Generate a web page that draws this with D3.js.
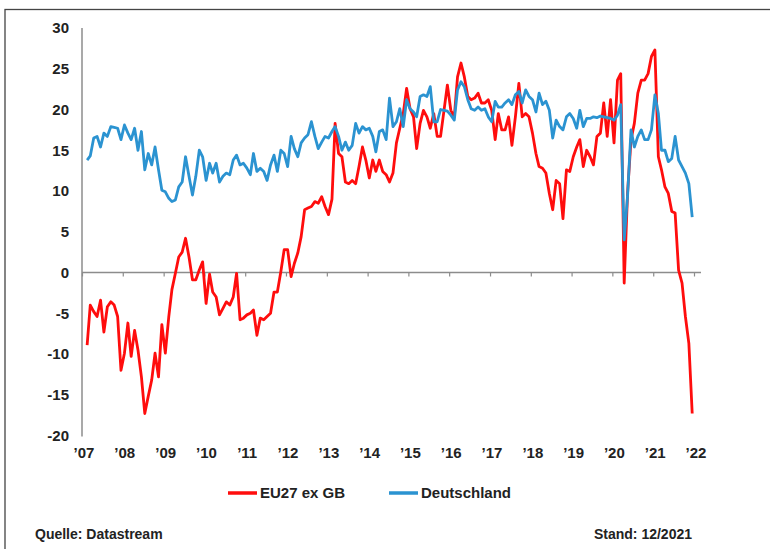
<!DOCTYPE html>
<html>
<head>
<meta charset="utf-8">
<script src="https://cdn.jsdelivr.net/npm/d3@7/dist/d3.min.js"></script>
<style>
  html, body { margin: 0; padding: 0; background: #fff; }
  svg { display: block; }
  text { font-family: "Liberation Sans", Arial, sans-serif; font-weight: bold; fill: #222; }
</style>
</head>
<body>
<script>
// Monthly series, first value = Feb 2007, last value = Dec 2021
const firstYear = 2007;
const firstMonth = 1; // 0-based: February
const eu27exGB = [
  -8.9, -4.0, -4.8, -5.4, -3.4, -7.3, -4.2, -3.6, -4.0, -5.4, -12.0,
  -9.9, -6.2, -10.3, -7.1, -9.5, -12.8, -17.3, -15.2, -13.2, -9.9, -12.8, -6.4,
  -9.9, -5.4, -2.1, -0.1, 1.9, 2.5, 4.2, 1.9, -0.9, -0.9, 0.3, 1.3,
  -3.8, -0.2, -2.4, -3.0, -5.2, -4.4, -3.6, -4.0, -3.0, -0.1, -5.8, -5.6,
  -5.2, -5.0, -4.6, -7.7, -5.6, -5.8, -5.4, -5.0, -2.4, -2.4, 0.1, 2.8,
  2.8, -0.5, 1.1, 2.4, 4.4, 7.7, 7.9, 8.1, 8.7, 8.5, 9.3, 8.1,
  7.1, 9.0, 18.3, 14.6, 14.2, 11.1, 10.9, 11.3, 10.9, 13.0, 15.4, 13.8,
  11.6, 13.8, 12.4, 13.8, 12.4, 12.0, 11.1, 12.2, 15.9, 17.7, 19.5, 22.6,
  20.1, 19.1, 15.2, 18.3, 19.9, 19.1, 17.7, 19.5, 16.7, 16.7, 19.9, 23.0,
  19.9, 19.1, 24.0, 25.7, 24.0, 21.6, 21.2, 21.4, 22.0, 20.8, 20.8, 21.2,
  19.9, 16.3, 19.5, 17.5, 17.5, 19.1, 15.6, 19.1, 23.2, 19.1, 19.5, 19.1,
  17.1, 14.6, 13.0, 12.8, 12.2, 9.7, 7.7, 11.3, 10.9, 6.6, 12.6, 12.4,
  14.2, 15.4, 16.3, 13.0, 15.0, 14.2, 13.2, 16.7, 17.1, 20.8, 16.7, 21.2,
  15.9, 23.6, 24.4, -1.3, 9.7, 16.3, 18.3, 22.0, 23.6, 23.6, 24.4, 26.5,
  27.3, 14.2, 12.6, 10.5, 9.7, 7.5, 7.3, 0.3, -1.3, -5.4, -8.7, -17.3
];
const deutschland = [
  13.8, 14.3, 16.5, 16.7, 15.4, 17.1, 16.7, 17.9, 17.8, 17.7, 16.3,
  18.1, 17.1, 16.3, 17.7, 15.0, 17.3, 12.6, 14.6, 13.2, 15.4, 12.6, 10.1,
  9.9, 9.1, 8.7, 8.9, 10.5, 11.1, 14.2, 11.8, 9.5, 11.8, 15.0, 14.2,
  11.3, 13.4, 12.2, 13.4, 11.1, 11.8, 12.2, 12.0, 13.8, 14.4, 13.2, 13.4,
  12.8, 12.0, 14.6, 12.4, 12.8, 12.4, 11.3, 13.2, 14.4, 12.4, 15.0, 14.6,
  13.0, 16.7, 15.2, 14.2, 15.9, 16.5, 16.9, 18.5, 16.7, 15.2, 16.0, 16.7,
  16.5, 17.3, 17.9, 16.7, 15.0, 16.0, 15.0, 15.6, 18.3, 17.1, 17.9, 17.5,
  17.7, 16.7, 14.8, 17.3, 17.5, 16.3, 21.4, 17.9, 18.5, 20.1, 17.9, 21.2,
  20.1, 19.7, 19.1, 21.6, 21.8, 21.6, 22.8, 18.5, 18.5, 20.0, 19.9, 19.8,
  19.3, 18.7, 22.4, 23.4, 22.8, 21.2, 20.1, 19.9, 20.3, 19.9, 20.1, 19.1,
  18.5, 21.0, 20.3, 20.3, 20.8, 21.2, 20.6, 21.8, 22.2, 20.8, 22.4, 21.6,
  21.2, 19.7, 22.0, 20.6, 21.0, 19.9, 16.5, 18.7, 17.9, 17.5, 19.1, 19.5,
  18.9, 17.7, 19.9, 17.9, 18.9, 18.9, 19.1, 19.0, 19.2, 19.1, 19.0, 18.9,
  18.7, 19.3, 20.6, 4.0, 9.3, 17.5, 15.4, 16.7, 17.5, 16.3, 16.3, 17.5,
  21.8, 19.5, 15.0, 15.0, 13.6, 14.0, 16.7, 13.8, 13.0, 12.2, 10.9, 6.8
];
const yTicks = [30, 25, 20, 15, 10, 5, 0, -5, -10, -15, -20];
const yearTicks = [2007, 2008, 2009, 2010, 2011, 2012, 2013, 2014, 2015, 2016, 2017, 2018, 2019, 2020, 2021, 2022];
const yearLabels = ["\u201907", "\u201908", "\u201909", "\u201910", "\u201911", "\u201912", "\u201913", "\u201914", "\u201915", "\u201916", "\u201917", "\u201918", "\u201919", "\u201920", "\u201921", "\u201922"];
const seriesNames = ["EU27 ex GB", "Deutschland"];
const seriesColors = ["#ff0d0d", "#2b93d1"];
const sourceText = "Quelle: Datastream";
const dateText = "Stand: 12/2021";

const W = 770, H = 549;
const svg = d3.select("body").append("svg").attr("width", W).attr("height", H);

// outer frame
svg.append("rect").attr("x", 5).attr("y", 9.5).attr("width", 800).attr("height", 600)
  .attr("fill", "none").attr("stroke", "#444").attr("stroke-width", 1.3);

const x = d3.scaleTime()
  .domain([new Date(2007, 0, 1), new Date(2022, 0, 1)])
  .range([82, 694]);
const y = d3.scaleLinear().domain([-20, 30]).range([435.5, 28]);

const dateOf = i => new Date(firstYear, firstMonth + i, 16);

// y axis line
svg.append("line").attr("x1", 82).attr("x2", 82).attr("y1", y(30)).attr("y2", y(-20) + 1)
  .attr("stroke", "#8c8c8c").attr("stroke-width", 1.5);

// y labels
svg.append("g").selectAll("text").data(yTicks).join("text")
  .attr("x", 69).attr("y", d => y(d)).attr("dy", "0.35em")
  .attr("text-anchor", "end").attr("font-size", 15).text(d => d);

// x axis at 0
const xAxis = d3.axisBottom(x)
  .tickValues(yearTicks.map(yr => new Date(yr, 0, 1)))
  .tickSize(4).tickFormat("");
const gx = svg.append("g").attr("transform", `translate(0,${y(0)})`).call(xAxis);
gx.select(".domain").attr("d", `M82,0H701`).attr("stroke", "#8c8c8c").attr("stroke-width", 1.5);
gx.selectAll(".tick line").attr("stroke", "#8c8c8c").attr("stroke-width", 1.2);

// x labels at the bottom
svg.append("g").selectAll("text").data(yearTicks).join("text")
  .attr("x", d => x(new Date(d, 0, 1)) + 2).attr("y", 453).attr("dy", "0.35em")
  .attr("text-anchor", "middle").attr("font-size", 15)
  .text((d, i) => yearLabels[i]);

// lines
const line = d3.line().x((d, i) => x(dateOf(i))).y(d => y(d));
[eu27exGB, deutschland].forEach((s, k) => {
  svg.append("path").datum(s).attr("d", line)
    .attr("fill", "none").attr("stroke", seriesColors[k])
    .attr("stroke-width", 2.8).attr("stroke-linejoin", "round");
});

// legend
const legendX = [228, 389];
const lg = svg.append("g");
seriesNames.forEach((nm, k) => {
  lg.append("line").attr("x1", legendX[k]).attr("x2", legendX[k] + 29)
    .attr("y1", 493).attr("y2", 493).attr("stroke", seriesColors[k]).attr("stroke-width", 3.5);
  lg.append("text").attr("x", legendX[k] + 32).attr("y", 493).attr("dy", "0.35em")
    .attr("font-size", 15).text(nm);
});

// footer
svg.append("text").attr("x", 35).attr("y", 534).attr("dy", "0.35em").attr("font-size", 14).text(sourceText);
svg.append("text").attr("x", 692).attr("y", 534).attr("dy", "0.35em").attr("text-anchor", "end").attr("font-size", 14).text(dateText);
</script>
</body>
</html>
